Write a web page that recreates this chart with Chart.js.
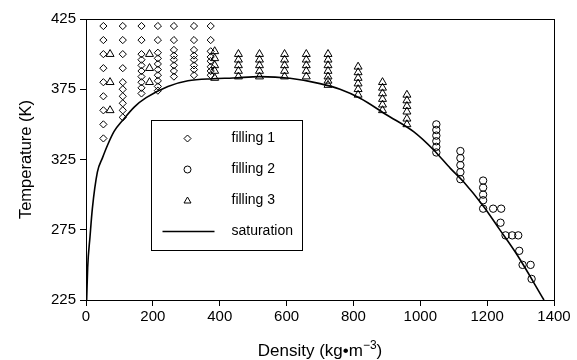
<!DOCTYPE html>
<html>
<head>
<meta charset="utf-8">
<script src="https://cdn.jsdelivr.net/npm/chart.js@4"></script>
<style>
  html, body { margin: 0; padding: 0; background: #fff; }
</style>
</head>
<body>
<canvas id="chart" width="577" height="360"></canvas>
<script>
// tick labels
const xTicks = [0, 200, 400, 600, 800, 1000, 1200, 1400];
const yTicks = [225, 275, 325, 375, 425];

// filling 1 (diamonds): one density per column, temperatures per column
const fill1Density = [52, 110, 166, 215, 263, 323, 373];
const fill1Temps = [
  [420, 410, 400, 390, 380, 370, 360, 350, 340],
  [420, 410, 400, 390, 380, 375, 370, 365, 360, 355],
  [420, 410, 400, 396, 392, 388, 384, 380, 376, 372],
  [420, 410, 401, 397, 393, 389, 385, 381, 377, 374],
  [420, 410, 403, 399, 396, 392, 388, 384],
  [420, 410, 403, 399, 396, 392, 389, 385],
  [420, 410, 402, 398, 395, 391, 388, 385]
];

// filling 2 (circles)
const fill2Density = [1048, 1048, 1048, 1048, 1048, 1048, 1120, 1120, 1120, 1120, 1120,
  1188, 1188, 1188, 1188, 1188, 1218, 1242, 1240, 1255, 1275, 1293, 1296, 1306, 1330, 1333];
const fill2Temp = [350, 346, 342, 338, 334, 330, 331, 326, 321, 316, 311,
  310, 305, 300, 296, 290, 290, 290, 280, 271, 271, 271, 260, 250, 250, 240];

// filling 3 (triangles)
const fill3Density = [72, 190, 385, 456, 519, 594, 659, 724, 814, 887, 960];
const fill3Temps = [
  [400, 380, 360],
  [400, 390, 380],
  [402, 397, 392, 388, 383],
  [400, 396, 392, 388, 384],
  [400, 396, 392, 388, 384],
  [400, 396, 392, 388, 384],
  [400, 396, 392, 388, 384],
  [400, 396, 392, 388, 384, 381, 378],
  [391, 387, 383, 379, 375, 371],
  [380, 376, 372, 368, 364, 360],
  [371, 367, 363, 359, 354, 350]
];

// saturation curve
const satDensity = [2, 5, 12, 19, 34, 49, 64, 84, 110, 145, 180, 245, 305, 380, 440, 520,
  610, 700, 760, 820, 900, 980, 1040, 1090, 1130, 1190, 1235, 1290, 1370];
const satTemp = [225, 248, 270, 290, 316, 326, 335, 345, 353, 362.5, 369, 377, 381, 382.5, 383, 384,
  382.8, 379, 375, 368.6, 356.7, 344.8, 331.8, 318.7, 309, 291.4, 276, 257, 225];

const columns = (xs, temps) => xs.flatMap((x, i) => temps[i].map(t => ({ x: x, y: t })));
const pairs = (xs, ys) => xs.map((x, i) => ({ x: x, y: ys[i] }));

const FONT = 'Liberation Sans, Arial, sans-serif';

// frame, legend box and x title with superscript
const extras = {
  id: 'extras',
  afterDraw(chart) {
    const { ctx, chartArea: a } = chart;
    ctx.save();
    ctx.strokeStyle = '#000';
    ctx.fillStyle = '#000';
    ctx.lineWidth = 1;
    const l = Math.round(a.left) + 0.5, t = Math.round(a.top) + 0.5;
    const r = Math.round(a.right) + 0.5, b = Math.round(a.bottom) + 0.5;
    ctx.strokeRect(l, t, r - l, b - t);

    // legend
    const bx = l + 65, by = t + 101, bw = 151, bh = 130;
    ctx.fillStyle = '#fff';
    ctx.fillRect(bx, by, bw, bh);
    ctx.strokeRect(bx, by, bw, bh);
    const sx = bx + 36, tx = bx + 80;
    const rows = [by + 18, by + 49, by + 80, by + 111];
    const labels = ['filling 1', 'filling 2', 'filling 3', 'saturation'];
    ctx.lineWidth = 1;
    // diamond
    ctx.beginPath();
    ctx.moveTo(sx - 3.5, rows[0]); ctx.lineTo(sx, rows[0] - 3.5);
    ctx.lineTo(sx + 3.5, rows[0]); ctx.lineTo(sx, rows[0] + 3.5); ctx.closePath();
    ctx.stroke();
    // circle
    ctx.beginPath();
    ctx.arc(sx, rows[1], 3.5, 0, Math.PI * 2);
    ctx.stroke();
    // triangle
    ctx.beginPath();
    ctx.moveTo(sx, rows[2] - 3.5); ctx.lineTo(sx + 3.5, rows[2] + 2.5);
    ctx.lineTo(sx - 3.5, rows[2] + 2.5); ctx.closePath();
    ctx.stroke();
    // line
    ctx.lineWidth = 1.5;
    ctx.beginPath();
    ctx.moveTo(bx + 11, rows[3]); ctx.lineTo(bx + 63, rows[3]);
    ctx.stroke();

    ctx.fillStyle = '#000';
    ctx.font = '14px ' + FONT;
    ctx.textBaseline = 'middle';
    ctx.textAlign = 'left';
    labels.forEach((s, i) => ctx.fillText(s, tx, rows[i]));

    // x axis title
    const main = 'Density (kg\u2022m', sup = '\u22123', end = ')';
    ctx.font = '17px ' + FONT;
    const w1 = ctx.measureText(main).width, w3 = ctx.measureText(end).width;
    ctx.font = '12px ' + FONT;
    const w2 = ctx.measureText(sup).width;
    let x0 = (a.left + a.right) / 2 - (w1 + w2 + w3) / 2;
    const y0 = 351;
    ctx.font = '17px ' + FONT;
    ctx.fillText(main, x0, y0);
    ctx.font = '12px ' + FONT;
    ctx.fillText(sup, x0 + w1, y0 - 5);
    ctx.font = '17px ' + FONT;
    ctx.fillText(end, x0 + w1 + w2, y0);
    ctx.restore();
  }
};

const axisCommon = {
  border: { display: true, color: '#000', width: 1 },
  grid: { drawOnChartArea: false, drawTicks: true, tickLength: 6, color: '#000' }
};

new Chart(document.getElementById('chart').getContext('2d'), {
  type: 'scatter',
  data: {
    datasets: [
      {
        label: 'filling 1',
        data: columns(fill1Density, fill1Temps),
        pointStyle: 'rectRot',
        pointRadius: 3.6,
        borderColor: '#000',
        backgroundColor: 'rgba(0,0,0,0)',
        borderWidth: 1
      },
      {
        label: 'filling 2',
        data: pairs(fill2Density, fill2Temp),
        pointStyle: 'circle',
        pointRadius: 3.7,
        borderColor: '#000',
        backgroundColor: 'rgba(0,0,0,0)',
        borderWidth: 1
      },
      {
        label: 'filling 3',
        data: columns(fill3Density, fill3Temps),
        pointStyle: 'triangle',
        pointRadius: 4.6,
        borderColor: '#000',
        backgroundColor: 'rgba(0,0,0,0)',
        borderWidth: 1
      },
      {
        label: 'saturation',
        type: 'line',
        data: pairs(satDensity, satTemp),
        showLine: true,
        pointRadius: 0,
        borderColor: '#000',
        borderWidth: 1.6,
        fill: false,
        cubicInterpolationMode: 'monotone'
      }
    ]
  },
  options: {
    responsive: false,
    animation: false,
    layout: { padding: { top: 19, right: 23, left: 0, bottom: 0 } },
    plugins: { legend: { display: false }, tooltip: { enabled: false } },
    scales: {
      x: {
        ...axisCommon,
        type: 'linear',
        min: 0, max: 1400,
        afterBuildTicks: (s) => { s.ticks = xTicks.map(v => ({ value: v })); },
        afterFit: (s) => { s.height = 60; },
        ticks: { color: '#000', font: { family: FONT, size: 15 }, padding: 2, maxRotation: 0,
          callback: (v) => String(v) }
      },
      y: {
        ...axisCommon,
        type: 'linear',
        min: 225, max: 425,
        afterBuildTicks: (s) => { s.ticks = yTicks.map(v => ({ value: v })); },
        afterFit: (s) => { s.width = 86; },
        ticks: { color: '#000', font: { family: FONT, size: 15 }, padding: 4,
          callback: (v) => String(v) },
        title: {
          display: true,
          text: 'Temperature (K)',
          color: '#000',
          font: { family: FONT, size: 16.5 },
          padding: { top: 17 }
        }
      }
    }
  },
  plugins: [extras]
});
</script>
</body>
</html>
